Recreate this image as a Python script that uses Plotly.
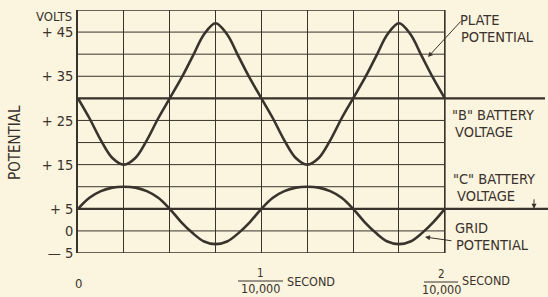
import plotly.graph_objects as go

# ---- data ----
t_units = [i * 0.25 for i in range(33)]  # time in eighths of 2/10,000 s
plate_potential = [30, 25.5, 20.5, 16.5, 15, 16.5, 20.5, 25.5, 30, 34.5, 39.5, 44.5, 47, 44.5, 39.5, 34.5,
                   30, 25.5, 20.5, 16.5, 15, 16.5, 20.5, 25.5, 30, 34.5, 39.5, 44.5, 47, 44.5, 39.5, 34.5, 30]
grid_potential = [5, 7.5, 9, 9.8, 10, 9.8, 9, 7.5, 5, 2, -0.5, -2.4, -3, -2.4, -0.5, 2,
                  5, 7.5, 9, 9.8, 10, 9.8, 9, 7.5, 5, 2, -0.5, -2.4, -3, -2.4, -0.5, 2, 5]
b_battery = 30
c_battery = 5
grid_levels = list(range(-5, 55, 5))
y_tick_vals = [-5, 0, 5, 15, 25, 35, 45]
y_tick_text = ["— 5", "0", "+ 5", "+ 15", "+ 25", "+ 35", "+ 45"]
x_grid = list(range(0, 9))

INK = "#3a322c"
BG = "#fbf4de"
FONT = "DejaVu Sans Condensed, Liberation Sans Narrow, Arial Narrow, sans-serif"

W, H = 548, 297
L, R, T, B = 78, 0, 10, 44
XMAX = 10.25
YMIN, YMAX = -5, 50


def px2x(px):
    return (px - L) / (W - L - R) * XMAX


def px2paper(px):
    return (px - L) / (W - L - R)


def py2y(py):
    return YMAX - (py - T) / (H - T - B) * (YMAX - YMIN)


def py2paper(py):
    return (H - B - py) / (H - T - B)


fig = go.Figure()

fig.add_trace(go.Scatter(x=t_units, y=plate_potential, mode="lines",
                         line=dict(color=INK, width=2.6, shape="spline", smoothing=1.0),
                         hoverinfo="skip", showlegend=False))
fig.add_trace(go.Scatter(x=t_units, y=grid_potential, mode="lines",
                         line=dict(color=INK, width=2.6, shape="spline", smoothing=1.0),
                         hoverinfo="skip", showlegend=False))

shapes = []
for lv in grid_levels:
    w = 1.6 if lv in (YMIN, YMAX) else 1
    shapes.append(dict(type="line", xref="x", yref="y", x0=0, x1=x_grid[-1], y0=lv, y1=lv,
                       line=dict(color=INK, width=w), layer="below"))
shapes.append(dict(type="line", xref="x", yref="y", x0=x_grid[-1], x1=x_grid[-1], y0=YMIN, y1=YMAX,
                   line=dict(color=INK, width=1.6), layer="below"))
shapes.append(dict(type="line", xref="x", yref="y", x0=0, x1=px2x(545), y0=b_battery, y1=b_battery,
                   line=dict(color=INK, width=2.2)))
shapes.append(dict(type="line", xref="x", yref="y", x0=0, x1=XMAX, y0=c_battery, y1=c_battery,
                   line=dict(color=INK, width=2.2)))
# fraction bars
shapes.append(dict(type="line", xref="paper", yref="paper", x0=px2paper(238), x1=px2paper(283),
                   y0=py2paper(281), y1=py2paper(281), line=dict(color=INK, width=1)))
shapes.append(dict(type="line", xref="paper", yref="paper", x0=px2paper(424), x1=px2paper(458),
                   y0=py2paper(282), y1=py2paper(282), line=dict(color=INK, width=1)))

ann = []


def label(text, px, py, size=14.5, anchor="left", angle=0):
    ann.append(dict(text=text, x=px2paper(px), y=py2paper(py), xref="paper", yref="paper",
                    xanchor=anchor, yanchor="middle", showarrow=False, textangle=angle,
                    font=dict(family=FONT, size=size, color=INK)))


label("PLATE", 458, 20)
label("POTENTIAL", 459, 37)
label('"B" BATTERY', 450, 115)
label("VOLTAGE", 453, 132)
label('"C" BATTERY', 451, 179)
label("VOLTAGE", 455, 196)
label("GRID", 453, 228)
label("POTENTIAL", 454, 245)
label("VOLTS", 74, 16, size=13, anchor="right")
label("0", 78, 283, size=13, anchor="center")
label("1", 260, 273, size=11.5, anchor="center")
label("10,000", 260, 288, size=12.5, anchor="center")
label("SECOND", 285, 281, size=12.5)
label("2", 441, 274, size=11.5, anchor="center")
label("10,000", 441, 289, size=12.5, anchor="center")
label("SECOND", 460, 280, size=12.5)
label("POTENTIAL", 15, 143, size=15, anchor="center", angle=-90)

# arrows
ann.append(dict(text="", x=px2x(428), y=py2y(57), xref="x", yref="y", ax=34, ay=-37,
                showarrow=True, arrowhead=2, arrowsize=1, arrowwidth=1, arrowcolor=INK))
ann.append(dict(text="", x=px2x(425), y=py2y(237), xref="x", yref="y", ax=28, ay=4,
                showarrow=True, arrowhead=2, arrowsize=1, arrowwidth=1, arrowcolor=INK))
ann.append(dict(text="", x=px2x(534), y=c_battery, xref="x", yref="y", ax=0, ay=-11,
                showarrow=True, arrowhead=2, arrowsize=1, arrowwidth=1, arrowcolor=INK))

fig.update_layout(
    width=W, height=H,
    margin=dict(l=L, r=R, t=T, b=B),
    paper_bgcolor=BG, plot_bgcolor=BG,
    shapes=shapes, annotations=ann,
    xaxis=dict(range=[0, XMAX], tickvals=x_grid, showticklabels=False, showgrid=True,
               gridcolor=INK, gridwidth=1, zeroline=False, showline=False, ticks=""),
    yaxis=dict(range=[YMIN, YMAX], tickvals=y_tick_vals, ticktext=y_tick_text, showgrid=False,
               zeroline=False, showline=True, linecolor=INK, linewidth=1.6, ticks="",
               tickfont=dict(family=FONT, size=14.5, color=INK)),
    font=dict(family=FONT, color=INK),
)

fig.write_html("out.html", config={"displayModeBar": False},
               post_script="document.body.style.margin='0';document.body.style.background='%s';" % BG)
